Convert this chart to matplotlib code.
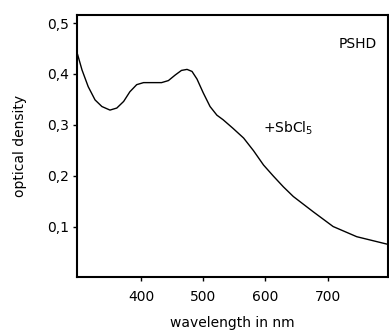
import matplotlib
matplotlib.use('Agg')
import matplotlib.pyplot as plt

# Spectrum of PSHD + SbCl5
wavelength = [298, 305, 315, 326, 337, 350, 361, 372, 382, 393, 404, 417, 433, 444,
              455, 465, 474, 482, 490, 500, 511, 522, 532, 548, 565, 581, 597, 613,
              629, 645, 677, 709, 747, 797]
od = [0.438, 0.408, 0.375, 0.349, 0.336, 0.329, 0.333, 0.346, 0.365, 0.379, 0.383,
      0.383, 0.383, 0.387, 0.398, 0.407, 0.409, 0.405, 0.390, 0.363, 0.336, 0.319,
      0.310, 0.293, 0.274, 0.249, 0.221, 0.199, 0.178, 0.159, 0.129, 0.100, 0.080,
      0.065]

xticks = [400, 500, 600, 700]
yticks = [0.1, 0.2, 0.3, 0.4, 0.5]
ytick_labels = ['0,1', '0,2', '0,3', '0,4', '0,5']

fig = plt.figure(figsize=(3.89, 3.33), dpi=100)
ax = fig.add_axes([0.198, 0.167, 0.799, 0.788])
ax.plot(wavelength, od, color='black', linewidth=1.0)

ax.set_xlim(297, 797)
ax.set_ylim(0, 0.516)
ax.set_xticks(xticks)
ax.set_yticks(yticks)
ax.set_yticklabels(ytick_labels)
ax.tick_params(axis='x', direction='out', length=3, width=1, labelsize=10, pad=6)
ax.tick_params(axis='y', direction='out', length=3, width=1, labelsize=10, pad=3)
for s in ax.spines.values():
    s.set_linewidth(1.5)

ax.set_xlabel('wavelength in nm', fontsize=10, labelpad=9)
ax.set_ylabel('optical density', fontsize=10, labelpad=14)

ax.text(0.965, 0.89, 'PSHD', transform=ax.transAxes, ha='right', va='center', fontsize=10)
ax.text(596, 0.294, r'+SbCl$_5$', ha='left', va='center', fontsize=10)

fig.savefig('out.png', dpi=100)
